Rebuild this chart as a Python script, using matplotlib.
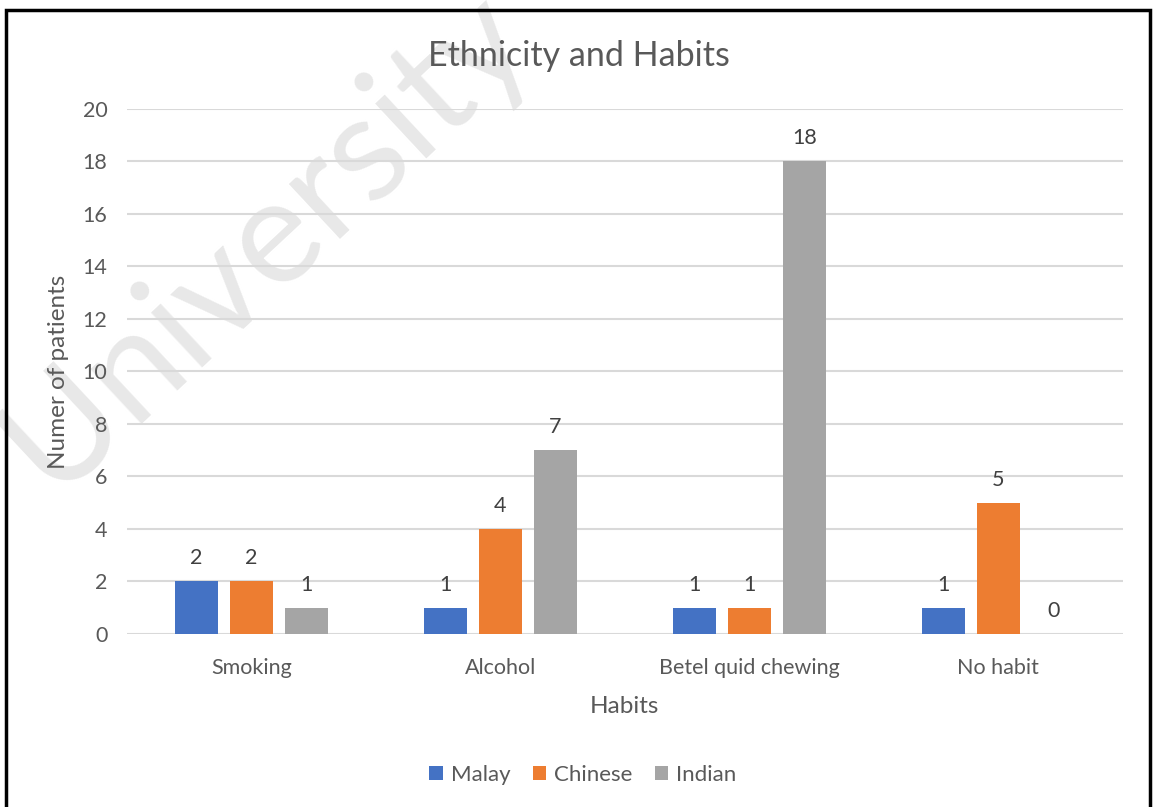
import matplotlib.pyplot as plt
import numpy as np
from matplotlib.patches import Rectangle

plt.rcParams['font.family'] = ['Lato', 'DejaVu Sans']

habits = ['Smoking', 'Alcohol', 'Betel quid chewing', 'No habit']
malay = [2, 1, 1, 1]
chinese = [2, 4, 1, 5]
indian = [1, 7, 18, 0]
ethnicities = ['Malay', 'Chinese', 'Indian']
colors = ['#4472c4', '#ed7d31', '#a5a5a5']

text_col = '#595959'

fig = plt.figure(figsize=(11.54, 8.07), dpi=100)
ax = fig.add_axes([0.110, 0.2144, 0.863, 0.6506])

# watermark, behind everything
fig.text(0.23, 0.703, 'University', fontsize=106, color='#e8e8e8', rotation=43,
         ha='center', va='center', zorder=-1)
ax.set_facecolor('none')

x = np.arange(len(habits))
width = 0.173
offset = 0.221
for i, (vals, name, c) in enumerate(zip([malay, chinese, indian], ethnicities, colors)):
    pos = x + (i - 1) * offset
    ax.bar(pos, vals, width, color=c, label=name, zorder=3)
    for p, v in zip(pos, vals):
        ax.text(p, v + 0.5, str(v), ha='center', va='bottom', fontsize=15.5, color='#404040')

ax.set_xlim(-0.5, 3.5)
ax.set_ylim(0, 20)
ax.set_yticks(range(0, 21, 2))
ax.set_xticks(x)
ax.set_xticklabels(habits)
ax.yaxis.grid(True, color='#d9d9d9', linewidth=1.5)
ax.set_axisbelow(True)
for s in ax.spines.values():
    s.set_visible(False)
ax.tick_params(axis='both', length=0, labelsize=15.5, colors=text_col)
ax.tick_params(axis='x', pad=17)
ax.tick_params(axis='y', pad=14)

ax.set_xlabel('Habits', fontsize=17.5, color=text_col, labelpad=13)
ax.set_ylabel('Numer of patients', fontsize=17.5, color=text_col, labelpad=10)
fig.text(0.502, 0.931, 'Ethnicity and Habits', ha='center', va='center', fontsize=24.5, color=text_col)

fig.legend(loc='center', bbox_to_anchor=(0.505, 0.04), ncol=3, frameon=False,
           fontsize=16, labelcolor=text_col, handlelength=0.6, handleheight=0.6,
           handletextpad=0.36, columnspacing=1.0)

# outer frame
fig.patches.append(Rectangle((0.0055, -0.05), 0.991, 1.038, transform=fig.transFigure,
                             fill=False, edgecolor='black', linewidth=2.5))

fig.savefig('out.png', dpi=100)
